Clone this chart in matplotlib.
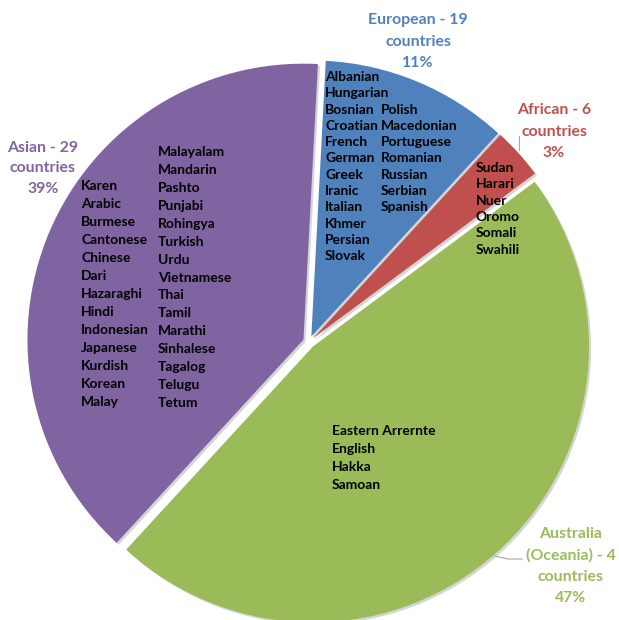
import matplotlib
matplotlib.use("Agg")
import matplotlib.pyplot as plt
import matplotlib.patheffects as pe

# ---- data ----
regions = ["European", "African", "Australia (Oceania)", "Asian"]
countries = [19, 6, 4, 29]
percents = [11, 3, 47, 39]
colors = ["#4F81BD", "#C0504D", "#9BBB59", "#8064A2"]

european_col1 = ["Albanian", "Hungarian", "Bosnian", "Croatian", "French", "German",
                 "Greek", "Iranic", "Italian", "Khmer", "Persian", "Slovak"]
european_col2 = ["Polish", "Macedonian", "Portuguese", "Romanian", "Russian",
                 "Serbian", "Spanish"]
african_langs = ["Sudan", "Harari", "Nuer", "Oromo", "Somali", "Swahili"]
australia_langs = ["Eastern Arrernte", "English", "Hakka", "Samoan"]
asian_col1 = ["Karen", "Arabic", "Burmese", "Cantonese", "Chinese", "Dari", "Hazaraghi",
              "Hindi", "Indonesian", "Japanese", "Kurdish", "Korean", "Malay"]
asian_col2 = ["Malayalam", "Mandarin", "Pashto", "Punjabi", "Rohingya", "Turkish", "Urdu",
              "Vietnamese", "Thai", "Tamil", "Marathi", "Sinhalese", "Tagalog", "Telugu",
              "Tetum"]

W, H = 619, 620
plt.rcParams['font.family'] = ['Lato', 'DejaVu Sans']
fig = plt.figure(figsize=(W / 100, H / 100), dpi=100)
ax = fig.add_axes([0, 0, 1, 1])

cx, cy, R = 309, 342, 276
wedges, _ = ax.pie(percents, colors=colors, startangle=87, counterclock=False,
                   explode=[6] * 4, radius=R, center=(cx, H - cy),
                   wedgeprops=dict(linewidth=0))
for w in wedges:
    w.set_path_effects([pe.SimplePatchShadow(offset=(1.5, -1.5), shadow_rgbFace='#888888',
                                             alpha=0.35), pe.Normal()])

ax.set_xlim(0, W)
ax.set_ylim(0, H)
ax.set_aspect('equal')
ax.axis('off')


def px(x, y):
    return x, H - y


def lang_block(items, x, y0, step, size=10):
    for i, t in enumerate(items):
        ax.text(*px(x, y0 + i * step), t, fontsize=size, fontweight='bold',
                color='black', ha='left', va='center')


lang_block(european_col1, 325, 77, 16.3)
lang_block(european_col2, 381, 77 + 2 * 16.3, 16.3)
lang_block(african_langs, 476, 168, 16.3)
lang_block(australia_langs, 332, 431, 18)
lang_block(asian_col1, 81, 186, 18)
lang_block(asian_col2, 158, 152, 17.93)

label_lines = {
    "European": [f"European - {countries[0]}", "countries", f"{percents[0]}%"],
    "African": [f"African - {countries[1]}", "countries", f"{percents[1]}%"],
    "Australia (Oceania)": ["Australia", f"(Oceania) - {countries[2]}", "countries",
                            f"{percents[2]}%"],
    "Asian": [f"Asian - {countries[3]}", "countries", f"{percents[3]}%"],
}
label_pos = {
    "European": (418, 20, 21.5),
    "African": (554, 110, 21.5),
    "Australia (Oceania)": (571, 534, 21.3),
    "Asian": (43, 148, 20.5),
}
for reg, col in zip(regions, colors):
    x, y0, step = label_pos[reg]
    for i, t in enumerate(label_lines[reg]):
        ax.text(*px(x, y0 + i * step), t, fontsize=11.4, fontweight='bold',
                color=col, ha='center', va='center')

# leader lines
ax.plot(*zip(px(519, 136), px(519, 150)), color='#A6A6A6', lw=0.8)
ax.plot(*zip(px(495, 556), px(508, 559), px(522, 559)), color='#A6A6A6', lw=0.8)

fig.savefig("out.png", dpi=100)
